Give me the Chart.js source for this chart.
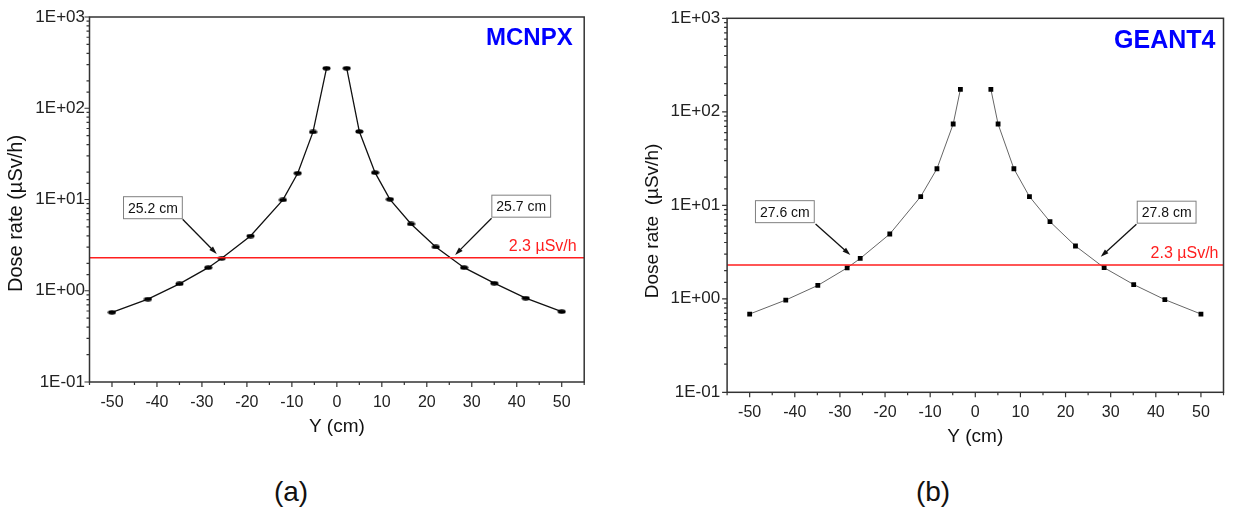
<!DOCTYPE html>
<html>
<head>
<meta charset="utf-8">
<script src="https://cdn.jsdelivr.net/npm/chart.js@4.4.1/dist/chart.umd.min.js"></script>
<style>
html, body { margin: 0; padding: 0; background: #fff; }
body { width: 1234px; height: 511px; position: relative; overflow: hidden; font-family: "Liberation Sans", Arial, sans-serif; }
.panel { position: absolute; top: 0; width: 617px; height: 460px; }
.tag { position: absolute; font-size: 28px; color: #111; transform: translate(-50%, -50%); white-space: nowrap; }
</style>
</head>
<body>
<div class="panel" style="left:0"><canvas id="chart_mcnpx"></canvas></div>
<div class="panel" style="left:617px"><canvas id="chart_geant"></canvas></div>
<div class="tag" style="left:291px;top:492px">(a)</div>
<div class="tag" style="left:933px;top:492px">(b)</div>
<script>
// Y position (cm) and dose rate (uSv/h)
var posMcnpx = [-50, -42, -35, -28.6, -25.6, -19.2, -12, -8.7, -5.3, -2.3, 2.2, 5, 8.5, 11.8, 16.5, 22, 28.3, 35, 42, 50];
var doseMcnpx = [0.58, 0.81, 1.19, 1.79, 2.27, 3.98, 9.9, 19.4, 55, 274, 274, 55.6, 19.7, 10.05, 5.39, 3.02, 1.79, 1.21, 0.83, 0.59];
var posGeant = [-50, -42, -34.9, -28.4, -25.5, -18.95, -12.1, -8.5, -4.9, -3.3, 3.45, 5.05, 8.55, 12, 16.55, 22.2, 28.55, 35.1, 42, 50];
var doseGeant = [0.687, 0.97, 1.39, 2.14, 2.7, 4.93, 12.4, 24.6, 74, 174, 174, 74, 24.6, 12.4, 6.68, 3.67, 2.15, 1.42, 0.98, 0.687];
var limitDose = 2.3;
var limitLabel = '2.3 \u00b5Sv/h';
var xLimits = [-55, 55];
var decadeLabels = ['1E-01', '1E+00', '1E+01', '1E+02', '1E+03'];

var FONT = '"Liberation Sans", Arial, sans-serif';

// little squashed dot used by the MCNPX points
function ovalMarker() {
    var c = document.createElement('canvas');
    c.width = 9; c.height = 5;
    var g = c.getContext('2d');
    g.fillStyle = '#000';
    g.beginPath();
    g.ellipse(4.5, 2.5, 4, 2.2, 0, 0, Math.PI * 2);
    g.fill();
    return c;
}

function toPoints(xs, ys) {
    return xs.map(function (x, i) { return {x: x, y: ys[i]}; });
}

function arrow(ctx, x0, y0, x1, y1) {
    var a = Math.atan2(y1 - y0, x1 - x0);
    var ca = Math.cos(a), sa = Math.sin(a);
    ctx.beginPath();
    ctx.moveTo(x0, y0);
    ctx.lineTo(x1 - 6 * ca, y1 - 6 * sa);
    ctx.stroke();
    ctx.beginPath();
    ctx.moveTo(x1, y1);
    ctx.lineTo(x1 - 8 * ca + 2.6 * sa, y1 - 8 * sa - 2.6 * ca);
    ctx.lineTo(x1 - 8 * ca - 2.6 * sa, y1 - 8 * sa + 2.6 * ca);
    ctx.closePath();
    ctx.fill();
}

var decoPlugin = {
    id: 'deco',
    afterDraw: function (chart, args, o) {
        var ctx = chart.ctx, area = chart.chartArea;
        var xs = chart.scales.x, ys = chart.scales.y;
        ctx.save();

        // frame + outward ticks
        ctx.strokeStyle = '#333';
        ctx.lineWidth = 1.5;
        ctx.strokeRect(area.left, area.top, area.right - area.left, area.bottom - area.top);
        ctx.lineWidth = 1.2;
        ctx.beginPath();
        xs.ticks.forEach(function (t) {
            var px = xs.getPixelForValue(t.value);
            var len = t.value % 10 === 0 ? 5 : 3;
            ctx.moveTo(px, area.bottom);
            ctx.lineTo(px, area.bottom + len);
        });
        ys.ticks.forEach(function (t) {
            var py = ys.getPixelForValue(t.value);
            var e = Math.log10(t.value);
            var len = Math.abs(e - Math.round(e)) < 1e-6 ? 5 : 3;
            ctx.moveTo(area.left - len, py);
            ctx.lineTo(area.left, py);
        });
        ctx.stroke();

        // y axis title
        ctx.save();
        ctx.translate(o.yTitle.x, o.yTitle.y);
        ctx.rotate(-Math.PI / 2);
        ctx.fillStyle = '#111';
        ctx.font = o.yTitle.size + 'px ' + FONT;
        ctx.textAlign = 'center';
        ctx.textBaseline = 'middle';
        ctx.fillText(o.yTitle.text, 0, 0);
        ctx.restore();

        // code name, top right
        ctx.fillStyle = '#0000ff';
        ctx.font = 'bold ' + o.name.size + 'px ' + FONT;
        ctx.textAlign = 'right';
        ctx.textBaseline = 'middle';
        ctx.fillText(o.name.text, area.right - o.name.dx, area.top + o.name.dy);

        // limit label above the red line
        var ly = ys.getPixelForValue(limitDose);
        ctx.fillStyle = '#ff1e1e';
        ctx.font = '16px ' + FONT;
        ctx.fillText(limitLabel, area.right - o.limitDx, ly - 11.5);

        // callout boxes with arrows
        o.notes.forEach(function (n) {
            ctx.strokeStyle = '#111';
            ctx.fillStyle = '#111';
            ctx.lineWidth = 1.3;
            arrow(ctx, xs.getPixelForValue(n.from[0]), ys.getPixelForValue(n.from[1]),
                xs.getPixelForValue(n.to[0]), ys.getPixelForValue(n.to[1]));
            ctx.font = '14px ' + FONT;
            var w = ctx.measureText(n.text).width + 10, h = 23;
            var cx = xs.getPixelForValue(n.box[0]), cy = ys.getPixelForValue(n.box[1]);
            ctx.fillStyle = '#fff';
            ctx.fillRect(cx - w / 2, cy - h / 2, w, h);
            ctx.strokeStyle = '#808080';
            ctx.lineWidth = 1;
            ctx.strokeRect(cx - w / 2 + 0.5, cy - h / 2 + 0.5, w - 1, h - 1);
            ctx.fillStyle = '#111';
            ctx.textAlign = 'center';
            ctx.fillText(n.text, cx, cy + 1);
        });
        ctx.restore();
    }
};

function makeChart(id, s) {
    return new Chart(document.getElementById(id), {
        type: 'line',
        data: {
            datasets: [{
                label: 'limit',
                data: [{x: xLimits[0], y: limitDose}, {x: xLimits[1], y: limitDose}],
                borderColor: 'rgb(255, 30, 30)',
                borderWidth: 1.6,
                pointRadius: 0
            }, {
                label: s.label,
                data: toPoints(s.pos, s.dose),
                borderColor: s.lineColor,
                borderWidth: s.lineWidth,
                pointStyle: s.marker,
                pointRadius: s.pointRadius,
                pointBackgroundColor: '#000',
                pointBorderColor: '#000',
                pointBorderWidth: 0,
                tension: 0,
                segment: {
                    // no line across the source position
                    borderColor: function (c) { return c.p0.parsed.x < 0 && c.p1.parsed.x > 0 ? 'rgba(0,0,0,0)' : undefined; }
                }
            }]
        },
        options: {
            responsive: true,
            maintainAspectRatio: false,
            animation: false,
            layout: { padding: { left: 0, top: s.top, right: s.right, bottom: 0 } },
            plugins: {
                legend: { display: false },
                tooltip: { enabled: false },
                deco: s.deco
            },
            scales: {
                x: {
                    type: 'linear',
                    min: xLimits[0],
                    max: xLimits[1],
                    grid: { display: false, drawTicks: false },
                    border: { display: false },
                    ticks: {
                        stepSize: 5,
                        autoSkip: false,
                        maxRotation: 0,
                        padding: 10.5,
                        color: '#222',
                        font: { family: FONT, size: 16 },
                        callback: function (v) { return v % 10 === 0 ? String(v) : ''; }
                    },
                    title: {
                        display: true,
                        text: 'Y (cm)',
                        color: '#111',
                        font: { family: FONT, size: 19 },
                        padding: { top: 0, bottom: s.xTitlePad }
                    },
                    afterFit: function (sc) { sc.height = s.xHeight; }
                },
                y: {
                    type: 'logarithmic',
                    min: 0.1,
                    max: 1000,
                    grid: { display: false, drawTicks: false },
                    border: { display: false },
                    ticks: {
                        autoSkip: false,
                        padding: s.yTickPad,
                        color: '#222',
                        font: { family: FONT, size: 17 },
                        callback: function (v) {
                            var e = Math.log10(v), r = Math.round(e);
                            return Math.abs(e - r) < 1e-6 ? decadeLabels[r + 1] : '';
                        }
                    },
                    afterFit: function (sc) { sc.width = s.yWidth; }
                }
            }
        },
        plugins: [decoPlugin]
    });
}

var chart_mcnpx = makeChart('chart_mcnpx', {
    label: 'MCNPX', pos: posMcnpx, dose: doseMcnpx,
    lineColor: '#111', lineWidth: 1.3, marker: ovalMarker(), pointRadius: 4,
    top: 17, right: 32.8, yWidth: 89.5, xHeight: 78, xTitlePad: 21.6, yTickPad: 4.5,
    deco: {
        yTitle: { text: 'Dose rate (\u00b5Sv/h)', x: 16.7, y: 213.5, size: 20 },
        name: { text: 'MCNPX', size: 24, dx: 11.5, dy: 21.7 },
        limitDx: 7.5,
        notes: [
            { text: '25.2 cm', box: [-40.9, 8.13], from: [-34.3, 6.07], to: [-26.7, 2.53] },
            { text: '25.7 cm', box: [41.0, 8.45], from: [34.4, 6.22], to: [26.3, 2.47] }
        ]
    }
});

var chart_geant = makeChart('chart_geant', {
    label: 'GEANT4', pos: posGeant, dose: doseGeant,
    lineColor: '#666', lineWidth: 1, marker: 'rect', pointRadius: 3.4,
    top: 18.3, right: 2.8, yWidth: 110.1, xHeight: 67.7, xTitlePad: 11.9, yTickPad: 7,
    deco: {
        yTitle: { text: 'Dose rate  (\u00b5Sv/h)', x: 36, y: 221, size: 19 },
        name: { text: 'GEANT4', size: 25, dx: 8, dy: 22.9 },
        limitDx: 5,
        notes: [
            { text: '27.6 cm', box: [-42.2, 8.55], from: [-35.4, 6.31], to: [-27.7, 2.94] },
            { text: '27.8 cm', box: [42.4, 8.44], from: [35.7, 6.27], to: [27.8, 2.82] }
        ]
    }
});
</script>
</body>
</html>
